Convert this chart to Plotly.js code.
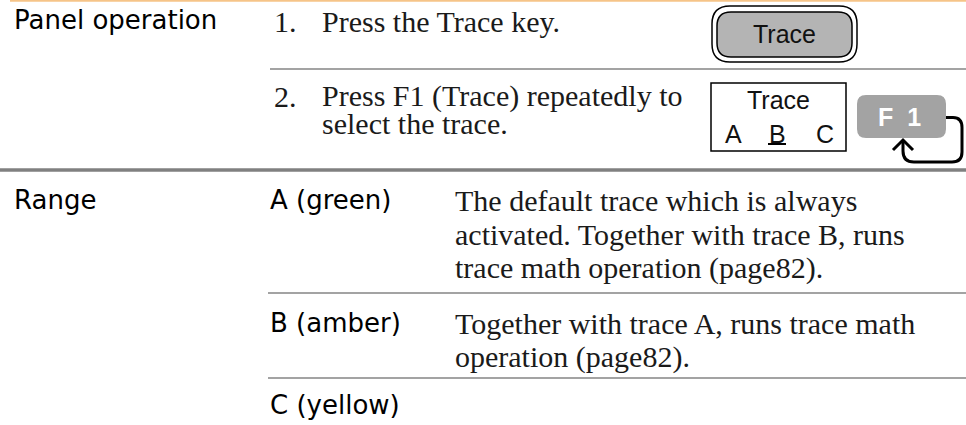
<!DOCTYPE html>
<html>
<head>
<meta charset="utf-8">
<script src="https://cdn.plot.ly/plotly-3.0.1.min.js"></script>
<style>
  html, body { margin: 0; padding: 0; background: #ffffff; }
  #chart { width: 966px; height: 425px; }
</style>
</head>
<body>
<div id="chart"></div>
<script>
// ---------- content (text only) ----------
const sectionLabels = ['Panel operation', 'Range'];
const stepNumbers = ['1.', '2.'];
const stepLines = [
  ['Press the Trace key.'],
  ['Press F1 (Trace) repeatedly to', 'select the trace.']
];
const traceNames = ['A (green)', 'B (amber)', 'C (yellow)'];
const traceDescLines = [
  ['The default trace which is always', 'activated. Together with trace B, runs', 'trace math operation (page82).'],
  ['Together with trace A, runs trace math', 'operation (page82).'],
  []
];
const keyLabel = 'Trace';
const menuTitle = 'Trace';
const menuOptions = ['A', 'B', 'C'];
const selectedOption = 'B';
const softKeyLabel = 'F 1';

// ---------- layout geometry (pixel space of the page) ----------
const G = {
  W: 966, H: 425,
  col1X: 12, numX: 272, stepX: 320, col2X: 268, descX: 453,
  sectionY: [20, 200],
  stepY: [21, 96], stepLineGap: 27,
  traceY: [200, 323, 405], descLineGap: 34,
  sepThin: [{y: 69, x0: 270}, {y: 293, x0: 268}, {y: 378, x0: 268}],
  sepThick: 170,
  key: {x0: 712, x1: 857, y0: 6, y1: 62, inset: 5, r: 18},
  menu: {x0: 711, x1: 846, y0: 83, y1: 151, titleY: 100, optY: 134, optX: [733, 777, 825]},
  soft: {x0: 857, x1: 946, y0: 95, y1: 138, r: 9}
};
const sansLabel = {family: 'DejaVu Sans', size: 26, color: '#000000'};
const serif = {family: 'Liberation Serif', size: 30, color: '#1a1a1a'};
const keyFont = {family: 'Liberation Sans, Arial', size: 25, color: '#111111'};

function rr(x0, y0, x1, y1, r) {
  return `M ${x0 + r} ${y0} L ${x1 - r} ${y0} Q ${x1} ${y0} ${x1} ${y0 + r} ` +
         `L ${x1} ${y1 - r} Q ${x1} ${y1} ${x1 - r} ${y1} L ${x0 + r} ${y1} ` +
         `Q ${x0} ${y1} ${x0} ${y1 - r} L ${x0} ${y0 + r} Q ${x0} ${y0} ${x0 + r} ${y0} Z`;
}

const ann = [];
function txt(text, x, y, font, xanchor) {
  ann.push({text: text, x: x, y: y, xref: 'x', yref: 'y', showarrow: false,
            xanchor: xanchor || 'left', yanchor: 'middle', align: 'left', font: font});
}

sectionLabels.forEach((s, i) => txt(s, G.col1X, G.sectionY[i], sansLabel));
stepNumbers.forEach((n, i) => {
  txt(n, G.numX, G.stepY[i], serif);
  stepLines[i].forEach((l, j) => txt(l, G.stepX, G.stepY[i] + j * G.stepLineGap, serif));
});
traceNames.forEach((n, i) => {
  txt(n, G.col2X, G.traceY[i], sansLabel);
  traceDescLines[i].forEach((l, j) => txt(l, G.descX, G.traceY[i] + j * G.descLineGap, serif));
});

// key button
const k = G.key;
txt(keyLabel, (k.x0 + k.x1) / 2, (k.y0 + k.y1) / 2, keyFont, 'center');
// menu box
const m = G.menu;
txt(menuTitle, (m.x0 + m.x1) / 2, m.titleY, keyFont, 'center');
menuOptions.forEach((o, i) => txt(o, m.optX[i], m.optY, keyFont, 'center'));
// soft key
const sk = G.soft;
txt('<b>' + softKeyLabel.split(' ').join('\u00a0\u00a0') + '</b>', (sk.x0 + sk.x1) / 2 - 2, (sk.y0 + sk.y1) / 2,
    {family: 'Liberation Sans, Arial', size: 25, color: '#ffffff'}, 'center');

const shapes = [];
// top orange rule
shapes.push({type: 'line', xref: 'x', yref: 'y', x0: 10, x1: G.W, y0: 0.8, y1: 0.8,
             line: {color: '#f6c488', width: 2}});
// thin separators
G.sepThin.forEach(s => shapes.push({type: 'line', xref: 'x', yref: 'y', x0: s.x0, x1: G.W,
  y0: s.y, y1: s.y, line: {color: '#858585', width: 1.5}}));
// thick separator
shapes.push({type: 'line', xref: 'x', yref: 'y', x0: 0, x1: G.W, y0: G.sepThick, y1: G.sepThick,
             line: {color: '#808080', width: 3.5}});
// key button: outer and inner rounded rects
shapes.push({type: 'path', xref: 'x', yref: 'y', path: rr(k.x0, k.y0, k.x1, k.y1, k.r),
             fillcolor: '#ffffff', line: {color: '#000000', width: 1.5}, layer: 'below'});
shapes.push({type: 'path', xref: 'x', yref: 'y',
             path: rr(k.x0 + k.inset, k.y0 + k.inset + 1, k.x1 - k.inset, k.y1 - k.inset, k.r - 4),
             fillcolor: '#b4b4b4', line: {color: '#000000', width: 1.5}, layer: 'below'});
// menu box
shapes.push({type: 'rect', xref: 'x', yref: 'y', x0: m.x0, x1: m.x1, y0: m.y0, y1: m.y1,
             line: {color: '#000000', width: 1.5}, fillcolor: 'rgba(0,0,0,0)'});
// underline of selected option
const selIdx = menuOptions.indexOf(selectedOption);
shapes.push({type: 'line', xref: 'x', yref: 'y', x0: m.optX[selIdx] - 9, x1: m.optX[selIdx] + 9,
             y0: m.optY + 10, y1: m.optY + 10, line: {color: '#000000', width: 2}});
// soft key
shapes.push({type: 'path', xref: 'x', yref: 'y', path: rr(sk.x0, sk.y0, sk.x1, sk.y1, sk.r),
             fillcolor: '#a3a3a3', line: {width: 0}, layer: 'below'});
// loop arrow
const my = (sk.y0 + sk.y1) / 2 + 1;
shapes.push({type: 'path', xref: 'x', yref: 'y',
  path: `M ${sk.x1} ${my} L ${sk.x1 + 7} ${my} Q ${sk.x1 + 16} ${my} ${sk.x1 + 16} ${my + 10} ` +
        `L ${sk.x1 + 16} 152 Q ${sk.x1 + 16} 162 ${sk.x1 + 6} 162 L 914 162 Q 903 162 903 151 L 903 141`,
  line: {color: '#000000', width: 3}});
shapes.push({type: 'path', xref: 'x', yref: 'y', path: 'M 893 150 L 903 140 L 913 150',
  line: {color: '#000000', width: 3}});

const layout = {
  width: G.W, height: G.H,
  margin: {l: 0, r: 0, t: 0, b: 0, pad: 0},
  paper_bgcolor: '#ffffff', plot_bgcolor: '#ffffff',
  xaxis: {range: [0, G.W], visible: false, fixedrange: true},
  yaxis: {range: [G.H, 0], visible: false, fixedrange: true},
  showlegend: false,
  annotations: ann,
  shapes: shapes
};
Plotly.newPlot('chart', [], layout, {staticPlot: true, displayModeBar: false});
</script>
</body>
</html>
